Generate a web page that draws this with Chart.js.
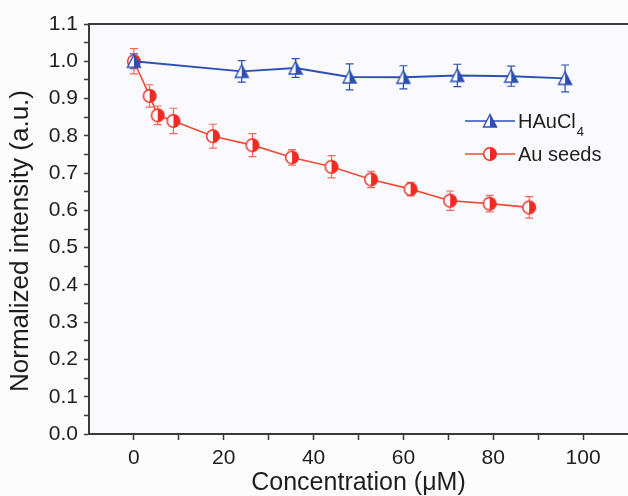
<!DOCTYPE html>
<html>
<head>
<meta charset="utf-8">
<script src="https://cdn.jsdelivr.net/npm/chart.js@4.4.0/dist/chart.umd.min.js"></script>
<style>
html, body { margin: 0; padding: 0; background: #fcfcfd; overflow: hidden; }
</style>
</head>
<body>
<canvas id="myChart" width="628" height="496"></canvas>
<script>
// HAuCl4 series
var hauConc = [0, 24, 36, 48, 60, 72, 84, 96];
var hauIntensity = [1.0, 0.973, 0.982, 0.958, 0.957, 0.962, 0.960, 0.954];
var hauErr = [0.02, 0.029, 0.025, 0.035, 0.031, 0.030, 0.027, 0.036];

// Au seeds series
var seedConc = [0, 3.5, 5.3, 8.8, 17.6, 26.4, 35.2, 44, 52.8, 61.6, 70.4, 79.2, 88];
var seedIntensity = [1.0, 0.907, 0.855, 0.840, 0.799, 0.775, 0.742, 0.717, 0.683, 0.657, 0.626, 0.618, 0.608];
var seedErr = [0.034, 0.030, 0.025, 0.034, 0.032, 0.031, 0.021, 0.030, 0.022, 0.018, 0.026, 0.022, 0.029];

var xLabels = [0, 20, 40, 60, 80, 100];
var yLabels = ['0.0', '0.1', '0.2', '0.3', '0.4', '0.5', '0.6', '0.7', '0.8', '0.9', '1.0', '1.1'];
var yTitle = 'Normalized intensity (a.u.)';

var blue = '#2c4fb4';
var red = '#ee2b22';
var axisColor = '#3a3a3a';
var textColor = '#1e1e1e';
var fontFamily = '"Liberation Sans", Arial, sans-serif';

function toPoints(xs, ys) {
    return xs.map(function (x, i) { return { x: x, y: ys[i] }; });
}

// half-open marker: left half white, right half filled
function halfMarker(shape, color) {
    var c = document.createElement('canvas');
    c.width = 16; c.height = 16;
    var g = c.getContext('2d');
    g.beginPath();
    if (shape === 'triangle') {
        g.moveTo(8, 1.5); g.lineTo(14.5, 14); g.lineTo(1.5, 14); g.closePath();
    } else {
        g.arc(8, 8, 6.3, 0, Math.PI * 2);
    }
    g.fillStyle = '#fff';
    g.fill();
    g.save();
    g.clip();
    g.fillStyle = color;
    g.fillRect(8, 0, 8, 16);
    g.restore();
    g.lineWidth = 1.4;
    g.strokeStyle = color;
    g.stroke();
    return c;
}

var triMarker = halfMarker('triangle', blue);
var dotMarker = halfMarker('circle', red);

var plotFrame = {
    id: 'plotFrame',
    beforeDraw: function (chart) {
        var a = chart.chartArea, c = chart.ctx;
        c.save();
        c.fillStyle = '#f9f9fe';
        c.fillRect(a.left, a.top, a.right - a.left, a.bottom - a.top);
        c.restore();
    },
    afterDraw: function (chart) {
        var a = chart.chartArea, c = chart.ctx;
        c.save();
        // top frame line
        c.strokeStyle = axisColor;
        c.lineWidth = 2;
        c.beginPath();
        c.moveTo(a.left - 1, a.top);
        c.lineTo(a.right, a.top);
        c.stroke();
        // y axis title, sits a little below the middle of the axis
        c.translate(21, (a.top + a.bottom) / 2 + 12);
        c.rotate(-Math.PI / 2);
        c.fillStyle = textColor;
        c.font = '26px ' + fontFamily;
        c.textAlign = 'center';
        c.textBaseline = 'middle';
        c.fillText(yTitle, 0, 0);
        c.restore();
    }
};

var errorBars = {
    id: 'errorBars',
    beforeDatasetsDraw: function (chart) {
        var c = chart.ctx, ys = chart.scales.y;
        chart.data.datasets.forEach(function (ds, i) {
            var meta = chart.getDatasetMeta(i);
            c.save();
            c.strokeStyle = ds.errorColor;
            c.lineWidth = 1.2;
            meta.data.forEach(function (pt, j) {
                var v = ds.data[j].y, e = ds.errors[j];
                var top = ys.getPixelForValue(v + e), bot = ys.getPixelForValue(v - e);
                c.beginPath();
                c.moveTo(pt.x, top); c.lineTo(pt.x, bot);
                c.moveTo(pt.x - 4, top); c.lineTo(pt.x + 4, top);
                c.moveTo(pt.x - 4, bot); c.lineTo(pt.x + 4, bot);
                c.stroke();
            });
            c.restore();
        });
    }
};

var sideLegend = {
    id: 'sideLegend',
    afterDraw: function (chart) {
        var c = chart.ctx;
        var x0 = 465, x1 = 515, rows = [121, 154];
        chart.data.datasets.forEach(function (ds, i) {
            var y = rows[i];
            c.save();
            c.strokeStyle = ds.borderColor;
            c.lineWidth = 1.6;
            c.beginPath(); c.moveTo(x0, y); c.lineTo(x1, y); c.stroke();
            c.drawImage(ds.pointStyle, (x0 + x1) / 2 - 8, y - 8);
            c.fillStyle = textColor;
            c.textBaseline = 'alphabetic';
            c.font = '20px ' + fontFamily;
            var tx = x1 + 3;
            c.fillText(ds.label, tx, y + 7);
            if (ds.subscript) {
                var w = c.measureText(ds.label).width;
                c.font = '13px ' + fontFamily;
                c.fillText(ds.subscript, tx + w + 1, y + 15);
            }
            c.restore();
        });
    }
};

var myChart = new Chart(document.getElementById('myChart'), {
    type: 'line',
    data: {
        datasets: [{
            label: 'HAuCl',
            subscript: '4',
            data: toPoints(hauConc, hauIntensity),
            errors: hauErr,
            borderColor: blue,
            errorColor: blue,
            borderWidth: 1.9,
            pointStyle: triMarker,
            pointRadius: 8,
            tension: 0,
            fill: false
        }, {
            label: 'Au seeds',
            data: toPoints(seedConc, seedIntensity),
            errors: seedErr,
            borderColor: '#f04b35',
            errorColor: '#f26a5a',
            borderWidth: 1.6,
            pointStyle: dotMarker,
            pointRadius: 8,
            tension: 0,
            fill: false
        }]
    },
    options: {
        responsive: false,
        animation: false,
        devicePixelRatio: 1,
        layout: { autoPadding: false, padding: { top: 24, right: 0, left: 0, bottom: 0 } },
        plugins: { legend: { display: false }, tooltip: { enabled: false } },
        scales: {
            x: {
                type: 'linear',
                min: -10,
                max: 110,
                afterBuildTicks: function (scale) {
                    scale.ticks = scale.ticks.filter(function (t) { return t.value >= 0 && t.value <= 100; });
                },
                afterFit: function (scale) { scale.height = 62; },
                ticks: {
                    stepSize: 10,
                    autoSkip: false,
                    maxRotation: 0,
                    padding: 6,
                    color: textColor,
                    font: { family: fontFamily, size: 21 },
                    callback: function (v) { return xLabels.indexOf(v) >= 0 ? String(v) : ''; }
                },
                grid: { drawOnChartArea: false, tickLength: 6, tickWidth: 1.5, color: axisColor },
                border: { color: axisColor, width: 2 },
                title: {
                    display: true,
                    text: 'Concentration (\u03bcM)',
                    color: textColor,
                    font: { family: fontFamily, size: 25, lineHeight: 1 },
                    padding: { top: 0, bottom: 0 }
                }
            },
            y: {
                min: 0,
                max: 1.1,
                afterFit: function (scale) { scale.width = 89; },
                ticks: {
                    stepSize: 0.05,
                    autoSkip: false,
                    padding: 6,
                    color: textColor,
                    font: { family: fontFamily, size: 21 },
                    callback: function (v) {
                        var k = Math.round(v * 100);
                        return k % 10 === 0 ? yLabels[k / 10] : '';
                    }
                },
                grid: { drawOnChartArea: false, tickLength: 5, tickWidth: 1.5, color: axisColor },
                border: { color: axisColor, width: 2 }
            }
        }
    },
    plugins: [plotFrame, errorBars, sideLegend]
});
</script>
</body>
</html>
